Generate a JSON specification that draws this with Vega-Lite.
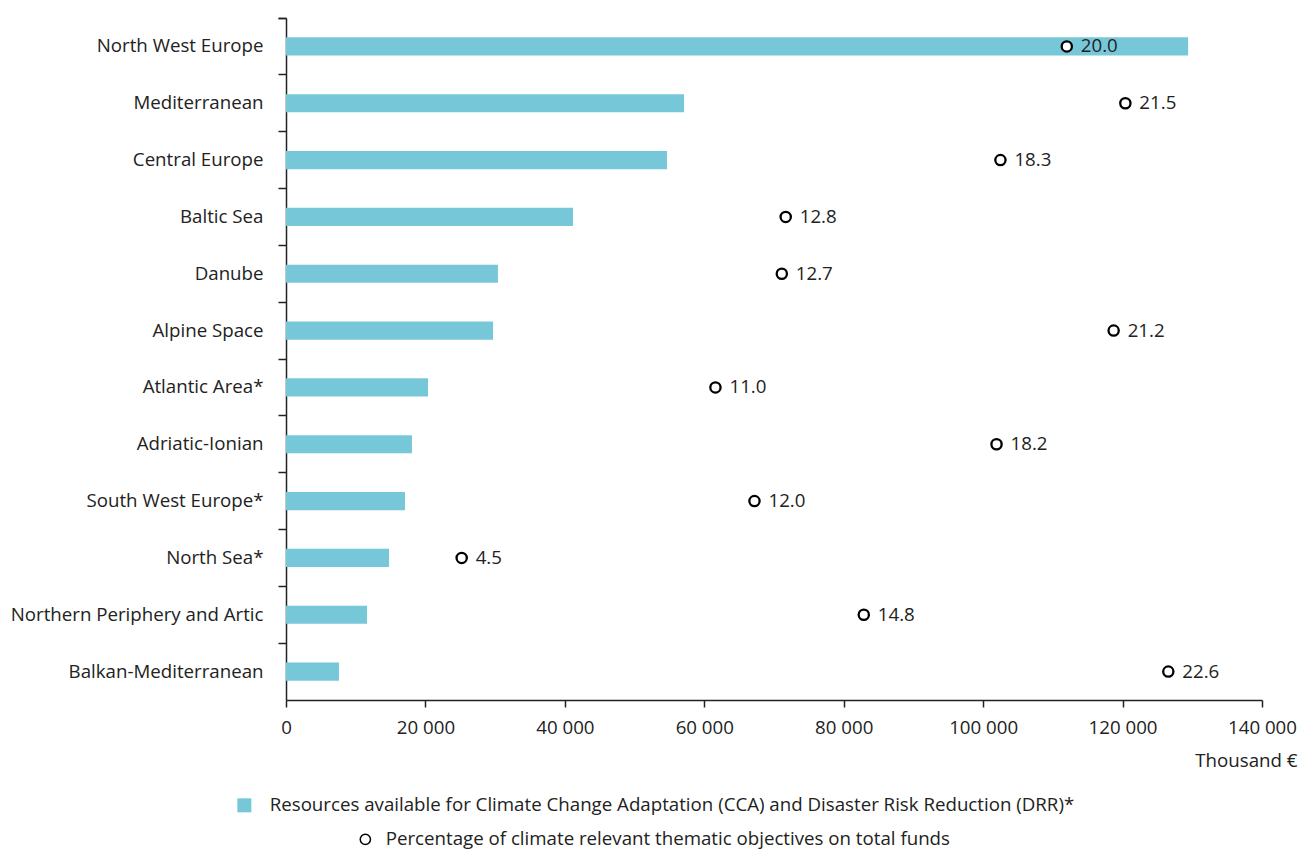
{
  "$schema": "https://vega.github.io/schema/vega-lite/v6.json",
  "autosize": {"type": "none"},
  "padding": {"left": 286, "top": 18, "right": 38, "bottom": 149},
  "width": 976,
  "height": 682,
  "config": {
    "font": "Open Sans",
    "view": {"stroke": null},
    "axis": {"labelFont": "Open Sans", "labelFontSize": 18.7, "labelColor": "#222222", "domainColor": "#222222", "tickColor": "#222222", "titleFont": "Open Sans", "titleFontSize": 18.7, "titleFontWeight": "normal", "titleColor": "#222222", "grid": false},
    "legend": {"labelFont": "Open Sans", "labelFontSize": 18.7, "labelColor": "#222222", "padding": 0}
  },
  "data": {"values": [
    {"region": "North West Europe", "resources": 129400, "pct": 20.0},
    {"region": "Mediterranean", "resources": 57100, "pct": 21.5},
    {"region": "Central Europe", "resources": 54650, "pct": 18.3},
    {"region": "Baltic Sea", "resources": 41170, "pct": 12.8},
    {"region": "Danube", "resources": 30400, "pct": 12.7},
    {"region": "Alpine Space", "resources": 29700, "pct": 21.2},
    {"region": "Atlantic Area*", "resources": 20370, "pct": 11.0},
    {"region": "Adriatic-Ionian", "resources": 18070, "pct": 18.2},
    {"region": "South West Europe*", "resources": 17070, "pct": 12.0},
    {"region": "North Sea*", "resources": 14780, "pct": 4.5},
    {"region": "Northern Periphery and Artic", "resources": 11620, "pct": 14.8},
    {"region": "Balkan-Mediterranean", "resources": 7600, "pct": 22.6}
  ]},
  "encoding": {
    "y": {"field": "region", "type": "nominal", "sort": null,
      "scale": {"paddingInner": 0, "paddingOuter": 0},
      "axis": {"title": null, "bandPosition": 0, "tickExtra": true, "tickSize": 8, "labelPadding": 15, "labelLimit": 500, "domainWidth": 1.5, "tickWidth": 1.5}}
  },
  "layer": [
    {
      "mark": {"type": "bar", "height": {"band": 0.32}},
      "encoding": {
        "x": {"field": "resources", "type": "quantitative",
          "scale": {"domain": [0, 140000], "nice": false},
          "axis": {"values": [0, 20000, 40000, 60000, 80000, 100000, 120000, 140000],
            "labelExpr": "replace(format(datum.value, ','), ',', ' ')",
            "labelFlush": false,
            "title": "Thousand €", "tickSize": 7, "labelPadding": 11, "domainWidth": 1.5, "tickWidth": 1.5,
            "titleAnchor": null, "titleAlign": "right", "titleBaseline": "middle", "titleX": 1011, "titleY": 60}},
        "color": {"datum": "Resources available for Climate Change Adaptation (CCA) and Disaster Risk Reduction (DRR)*", "type": "nominal",
          "scale": {"range": ["#76C8D9"]},
          "legend": {"title": null, "orient": "none", "legendX": -51, "legendY": 778, "symbolType": "square", "symbolSize": 196, "symbolStrokeWidth": 0, "labelOffset": 16, "labelLimit": 1200}}
      }
    },
    {
      "mark": {"type": "point", "filled": true, "fill": "white", "stroke": "black", "strokeWidth": 2.3, "size": 105, "opacity": 1},
      "encoding": {
        "x": {"field": "pct", "type": "quantitative", "scale": {"domain": [0, 25], "nice": false}, "axis": null},
        "shape": {"datum": "Percentage of climate relevant thematic objectives on total funds", "type": "nominal",
          "scale": {"range": ["circle"]},
          "legend": {"title": null, "orient": "none", "legendX": 70, "legendY": 812, "symbolSize": 105, "labelOffset": 11, "labelLimit": 1200,
            "encode": {"symbols": {"update": {"fill": {"value": "white"}, "stroke": {"value": "black"}, "strokeWidth": {"value": 2.3}, "opacity": {"value": 1}}}}}}
      }
    },
    {
      "mark": {"type": "text", "align": "left", "baseline": "middle", "dx": 14, "fontSize": 18.7, "font": "Open Sans", "color": "#222222"},
      "encoding": {
        "x": {"field": "pct", "type": "quantitative", "scale": {"domain": [0, 25], "nice": false}, "axis": null},
        "text": {"field": "pct", "type": "quantitative", "format": ".1f"}
      }
    }
  ],
  "resolve": {"scale": {"x": "independent"}}
}
